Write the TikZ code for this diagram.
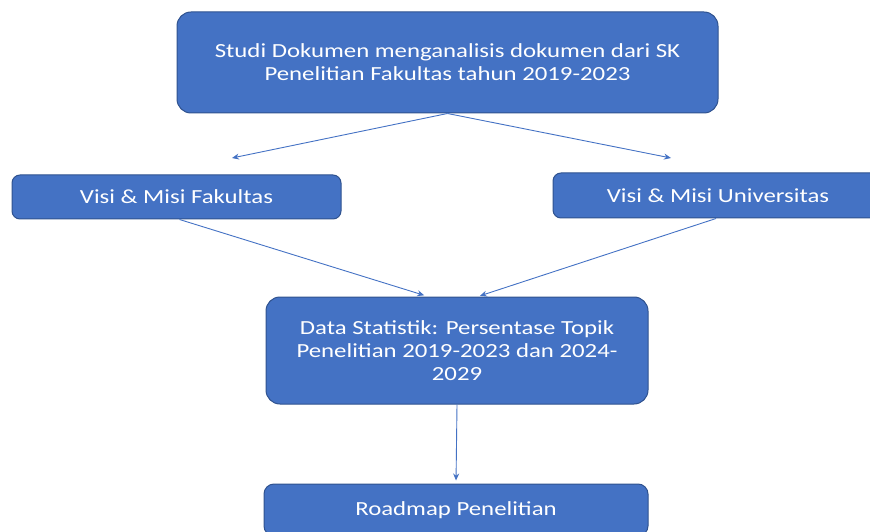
\documentclass[tikz,border=0pt]{standalone}
\usepackage{fontspec}
\setmainfont{Carlito}[FakeStretch=1.24]
\usetikzlibrary{arrows.meta}
\definecolor{birumuda}{HTML}{4472C4}
\definecolor{birutua}{HTML}{2F528F}
\begin{document}
\begin{tikzpicture}[x=1pt,y=1pt,
 kotak/.style={draw=birutua,line width=1pt,fill=birumuda,rounded corners=14pt,text=white,align=center,inner sep=0pt,font=\fontsize{20}{23}\selectfont},
 panah/.style={draw=birumuda,line width=0.9pt,-{Stealth[length=7pt,width=6pt]}}]
 \useasboundingbox (0,0) rectangle (870,531);
 \clip (0,0) rectangle (870,531);
 \node[kotak,minimum width=541pt,minimum height=101pt] (studi) at (447.5,468.5) {Studi Dokumen menganalisis dokumen dari SK\\Penelitian Fakultas tahun 2019-2023};
 \node[kotak,rounded corners=8pt,minimum width=329pt,minimum height=44pt] (fakultas) at (176.5,334) {Visi \& Misi Fakultas};
 \node[kotak,rounded corners=8pt,minimum width=330pt,minimum height=45pt] (univ) at (718,335.5) {Visi \& Misi Universitas};
 \node[kotak,minimum width=382pt,minimum height=107pt] (data) at (457,180.5) {Data Statistik: Persentase Topik\\Penelitian 2019-2023 dan 2024-\\2029};
 \node[kotak,rounded corners=10pt,minimum width=384pt,minimum height=52pt] (roadmap) at (456,21) {Roadmap Penelitian};
 \coordinate (kiri) at (232,373);
 \coordinate (kanan) at (671,373);
 \draw[panah] (studi.south) -- (kiri);
 \draw[panah] (studi.south) -- (kanan);
 \draw[panah,shorten >=4pt] ([xshift=3pt]fakultas.south) -- ([xshift=-29pt]data.north);
 \draw[panah,shorten >=2pt] ([xshift=-2pt]univ.south) -- ([xshift=21pt]data.north);
 \draw[panah,shorten >=3pt] (data.south) -- (roadmap.north);
\end{tikzpicture}
\end{document}
